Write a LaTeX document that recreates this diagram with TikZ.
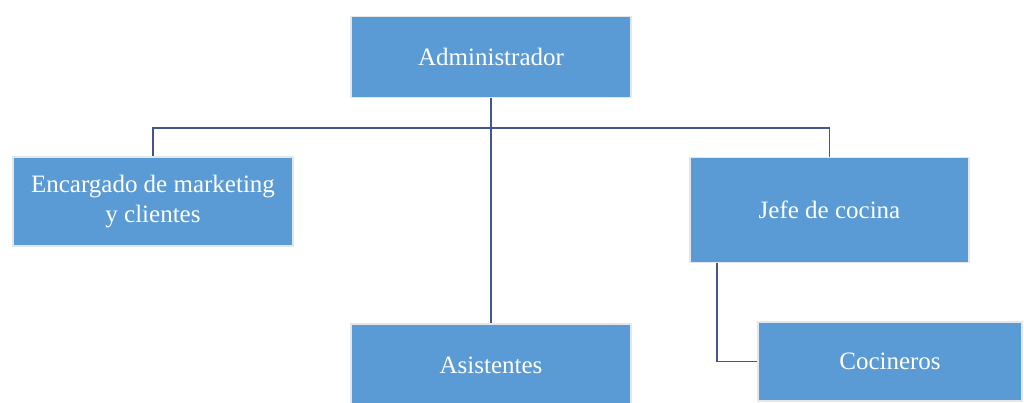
\documentclass[tikz,border=0pt]{standalone}
\usepackage{fontspec}
\setmainfont{Liberation Serif}
\usetikzlibrary{positioning,calc}
\definecolor{boxblue}{HTML}{5B9BD5}
\definecolor{boxedge}{HTML}{E3E6EA}
\definecolor{linknavy}{RGB}{68,84,140}

\begin{document}
\begin{tikzpicture}[x=1pt,y=-1pt,
  orgbox/.style={draw=boxedge, line width=1.5pt, fill=boxblue, rectangle, text=white, align=center, font=\fontsize{25}{30}\selectfont, inner sep=0pt},
  link/.style={draw=linknavy, line width=1.8pt}]
\useasboundingbox (0,0) rectangle (1024,402);
\node[orgbox, minimum width=280pt, minimum height=81pt] (admin) at (491,57) {Administrador};
\node[orgbox, minimum width=280pt, minimum height=89pt] (marketing) at (153,201.5) {Encargado de marketing\\y clientes};
\node[orgbox, minimum width=279pt, minimum height=105pt] (jefe) at (829.5,210) {Jefe de cocina};
\node[orgbox, minimum width=280pt, minimum height=82pt] (asistentes) at (491,365) {Asistentes};
\node[orgbox, minimum width=264pt, minimum height=79pt] (cocineros) at (890,361.5) {Cocineros};
\coordinate (bus) at (491,128);

\draw[link] (admin.south) -- (asistentes.north);
\draw[link] (bus) -| (marketing.north);
\draw[link] (bus) -| (jefe.north);
\draw[link] ([xshift=28pt]jefe.south west) |- (cocineros.west);
\end{tikzpicture}
\end{document}
